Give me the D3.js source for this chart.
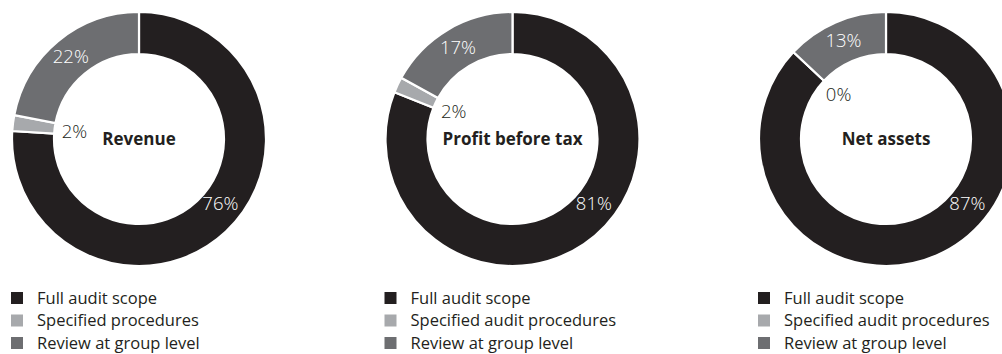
<!DOCTYPE html>
<html>
<head>
<meta charset="utf-8">
<script src="https://cdn.jsdelivr.net/npm/d3@7/dist/d3.min.js"></script>
<style>
  html, body { margin: 0; padding: 0; background: #fff; }
  svg { display: block; }
  text { font-family: "Open Sans", "Noto Sans", sans-serif; }
</style>
</head>
<body>
<svg id="chart" width="1002" height="354"></svg>
<script>
// Audit coverage by measure (%)
const chartTitles = ["Revenue", "Profit before tax", "Net assets"];
const scopeKeys = ["full", "specified", "review"];
const revenueValues = [76, 2, 22];
const profitValues = [81, 2, 17];
const netAssetValues = [87, 0, 13];
const revenueLegend = ["Full audit scope", "Specified procedures", "Review at group level"];
const profitLegend = ["Full audit scope", "Specified audit procedures", "Review at group level"];
const netAssetLegend = ["Full audit scope", "Specified audit procedures", "Review at group level"];

const seriesValues = [revenueValues, profitValues, netAssetValues];
const legendLabels = [revenueLegend, profitLegend, netAssetLegend];

const W = 1002, H = 354;
const cy = 139;
const outerR = 127, innerR = 85;

const color = d3.scaleOrdinal()
  .domain(scopeKeys)
  .range(["#231f20", "#a7a9ac", "#6d6e71"]);

const xPos = d3.scalePoint()
  .domain(chartTitles)
  .range([139, 886]);

const pie = d3.pie().sort(null).value(d => d.value);
const arc = d3.arc().innerRadius(innerR).outerRadius(outerR);
const midArc = d3.arc().innerRadius(107).outerRadius(107);
const innerLabelArc = d3.arc().innerRadius(65).outerRadius(65);

// Fixed placement for the large full-scope label (angle from 12 o'clock)
const fullLabelAngle = 128.5 * Math.PI / 180;
const fullLabelR = 104;

const svg = d3.select("#chart");

chartTitles.forEach((title, i) => {
  const data = scopeKeys.map((k, j) => ({ key: k, value: seriesValues[i][j] }));
  const arcs = pie(data);
  const cx = xPos(title);
  const g = svg.append("g").attr("transform", `translate(${cx},${cy})`);

  g.selectAll("path.slice")
    .data(arcs)
    .join("path")
    .attr("class", "slice")
    .attr("d", arc)
    .attr("fill", d => color(d.data.key))
    .attr("stroke", "#fff")
    .attr("stroke-width", 2.2)
    .attr("stroke-linejoin", "miter");

  g.selectAll("text.pct")
    .data(arcs)
    .join("text")
    .attr("class", "pct")
    .attr("transform", d => {
      let p;
      if (d.data.key === "full") {
        p = [fullLabelR * Math.sin(fullLabelAngle), -fullLabelR * Math.cos(fullLabelAngle)];
      } else if (d.data.key === "specified") {
        p = innerLabelArc.centroid(d);
      } else {
        p = midArc.centroid(d);
      }
      return `translate(${p[0]},${p[1]})`;
    })
    .attr("text-anchor", "middle")
    .attr("dy", "0.36em")
    .attr("font-size", 18.5)
    .attr("font-weight", 300)
    .attr("fill", d => d.data.key === "specified" ? "#231f20" : "#fff")
    .text(d => d.data.value + "%");

  g.append("text")
    .attr("text-anchor", "middle")
    .attr("dy", "0.36em")
    .attr("font-size", 17)
    .attr("font-weight", 700)
    .attr("fill", "#231f20")
    .text(title);

  // Legend
  const lg = g.append("g").attr("transform", `translate(-128, ${298 - cy})`);
  const rows = lg.selectAll("g.row")
    .data(scopeKeys)
    .join("g")
    .attr("class", "row")
    .attr("transform", (d, j) => `translate(0, ${j * 22.5})`);
  rows.append("rect")
    .attr("x", 0).attr("y", -6)
    .attr("width", 12).attr("height", 12)
    .attr("fill", d => color(d));
  rows.append("text")
    .attr("x", 26)
    .attr("dy", "0.36em")
    .attr("font-size", 16.5)
    .attr("fill", "#231f20")
    .text((d, j) => legendLabels[i][j]);
});
</script>
</body>
</html>
